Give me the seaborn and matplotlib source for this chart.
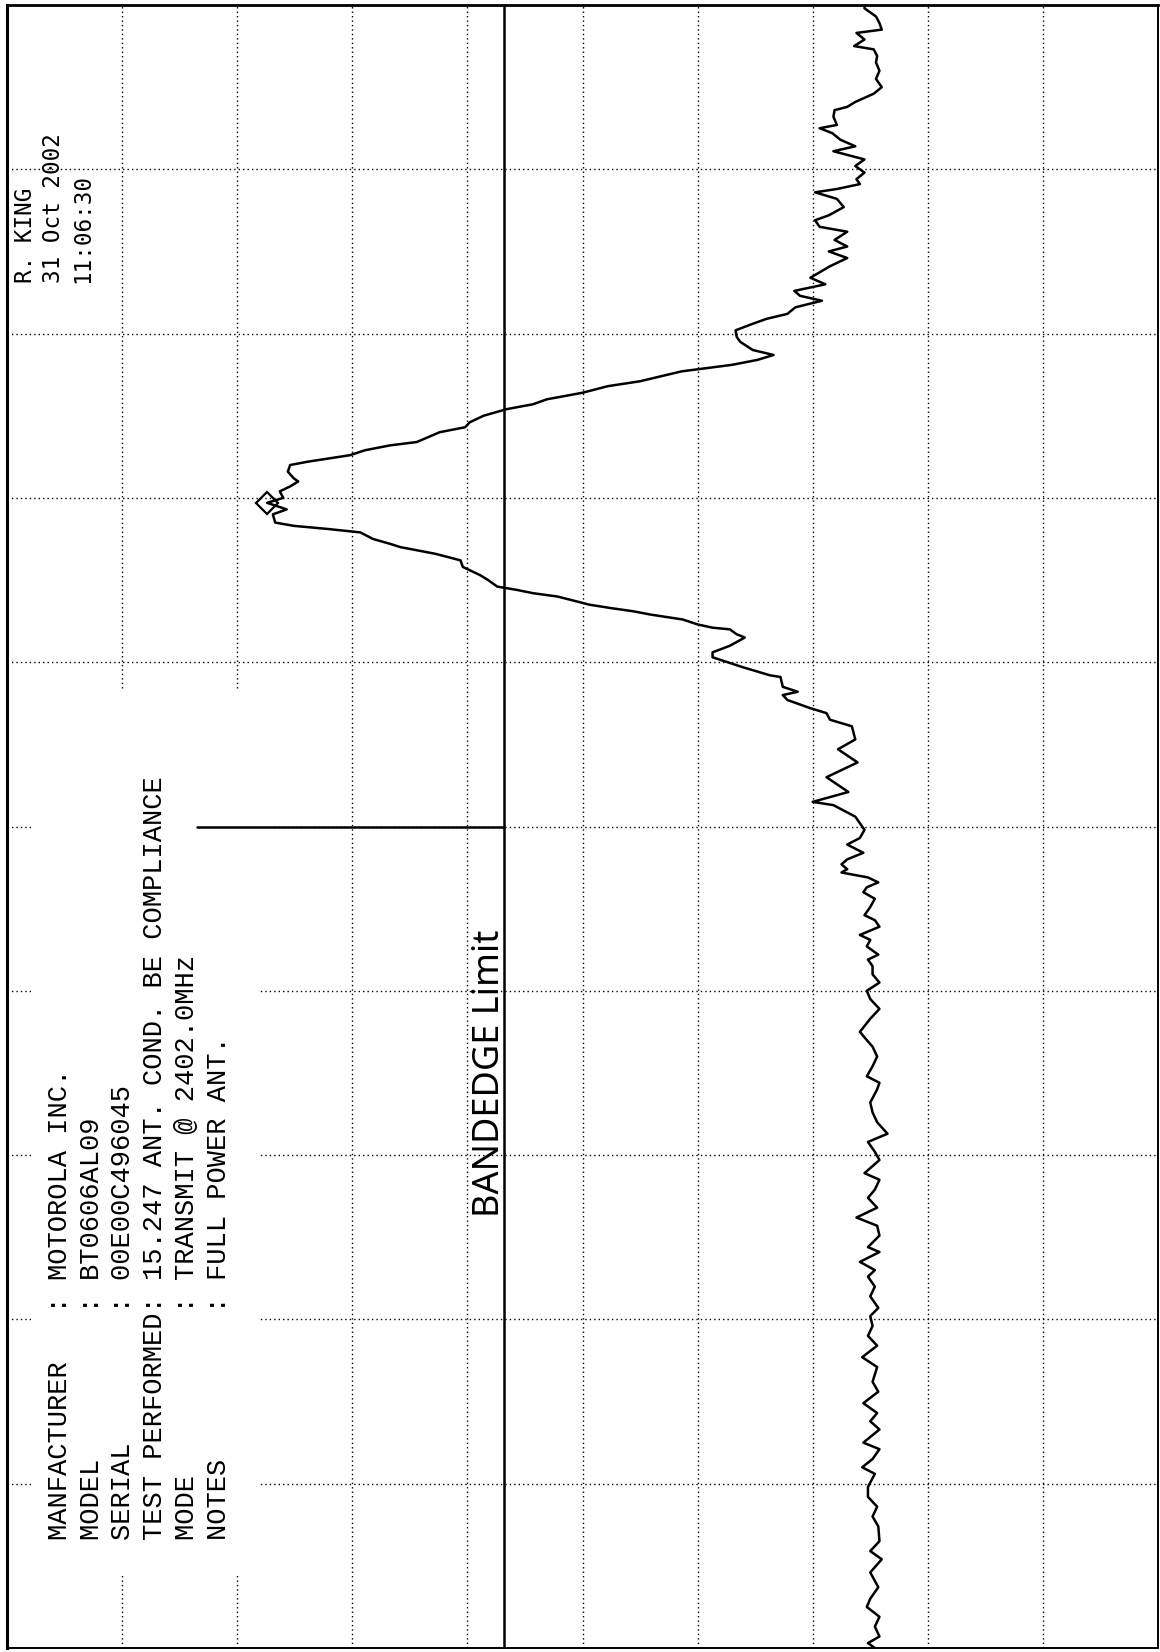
import numpy as np
import pandas as pd
import matplotlib
matplotlib.use("Agg")
import matplotlib.pyplot as plt
import seaborn as sns
from matplotlib.patches import Rectangle

# ---- measured sweep (frequency in MHz, level in dBm) ----
freq_mhz = [
    2395.00, 2395.03, 2395.07, 2395.13, 2395.19, 2395.25, 2395.30, 2395.37, 2395.46, 2395.54,
    2395.59, 2395.65, 2395.74, 2395.80, 2395.86, 2395.92, 2395.98, 2396.06, 2396.10, 2396.15,
    2396.21, 2396.25, 2396.33, 2396.38, 2396.43, 2396.49, 2396.56, 2396.62, 2396.71, 2396.77,
    2396.84, 2396.90, 2396.96, 2397.02, 2397.07, 2397.14, 2397.20, 2397.26, 2397.30, 2397.35,
    2397.41, 2397.44, 2397.51, 2397.57, 2397.62, 2397.68, 2397.74, 2397.79, 2397.85, 2397.89,
    2397.97, 2398.02, 2398.08, 2398.13, 2398.20, 2398.26, 2398.32, 2398.40, 2398.44, 2398.48,
    2398.54, 2398.60, 2398.66, 2398.70, 2398.75, 2398.83, 2398.89, 2398.95, 2399.00, 2399.05,
    2399.10, 2399.15, 2399.19, 2399.22, 2399.27, 2399.31, 2399.34, 2399.39, 2399.43, 2399.46,
    2399.51, 2399.56, 2399.60, 2399.63, 2399.66, 2399.69, 2399.72, 2399.74, 2399.77, 2399.80,
    2399.84, 2399.89, 2399.93, 2399.98, 2400.00, 2400.06, 2400.13, 2400.15, 2400.21, 2400.30,
    2400.39, 2400.47, 2400.53, 2400.61, 2400.65, 2400.69, 2400.72, 2400.77, 2400.80, 2400.82,
    2400.85, 2400.91, 2400.92, 2400.97, 2401.00, 2401.03, 2401.06, 2401.10, 2401.15, 2401.17,
    2401.20, 2401.21, 2401.23, 2401.26, 2401.29, 2401.31, 2401.33, 2401.35, 2401.37, 2401.40,
    2401.42, 2401.44, 2401.46, 2401.50, 2401.53, 2401.58, 2401.62, 2401.66, 2401.70, 2401.72,
    2401.75, 2401.79, 2401.81, 2401.83, 2401.85, 2401.90, 2401.93, 2401.97, 2402.00, 2402.04,
    2402.07, 2402.10, 2402.12, 2402.16, 2402.20, 2402.22, 2402.26, 2402.29, 2402.32, 2402.34,
    2402.40, 2402.43, 2402.46, 2402.50, 2402.54, 2402.57, 2402.60, 2402.64, 2402.68, 2402.71,
    2402.74, 2402.77, 2402.79, 2402.81, 2402.84, 2402.87, 2402.90, 2402.95, 2402.98, 2403.02,
    2403.06, 2403.09, 2403.12, 2403.16, 2403.20, 2403.23, 2403.26, 2403.30, 2403.34, 2403.41,
    2403.46, 2403.50, 2403.53, 2403.57, 2403.62, 2403.65, 2403.69, 2403.72, 2403.77, 2403.82,
    2403.86, 2403.88, 2403.91, 2403.94, 2403.98, 2404.02, 2404.06, 2404.11, 2404.14, 2404.18,
    2404.22, 2404.25, 2404.27, 2404.32, 2404.36, 2404.38, 2404.41, 2404.46, 2404.50, 2404.55,
    2404.60, 2404.65, 2404.69, 2404.73, 2404.75, 2404.79, 2404.83, 2404.85, 2404.89, 2404.93,
    2404.98, 2405.00,
]
level_dbm = [
    -55.4, -54.8, -55.8, -55.4, -55.8, -54.7, -55.0, -55.7, -55.0, -56.0,
    -55.0, -55.8, -55.7, -55.2, -55.6, -54.8, -54.8, -55.4, -54.3, -55.2,
    -55.8, -54.4, -55.8, -55.0, -55.6, -54.4, -55.7, -55.2, -55.6, -54.3,
    -55.6, -54.8, -55.2, -55.0, -55.7, -55.0, -55.4, -54.8, -55.4, -54.1,
    -55.8, -54.8, -55.8, -55.6, -53.8, -55.6, -54.8, -55.4, -55.8, -54.5,
    -55.8, -55.4, -54.8, -56.5, -55.6, -55.2, -55.0, -55.6, -55.8, -54.7,
    -55.2, -55.6, -55.2, -54.7, -54.1, -55.0, -55.8, -55.0, -54.7, -55.8,
    -55.2, -55.2, -54.8, -55.7, -54.7, -55.0, -54.1, -55.8, -55.4, -54.5,
    -55.0, -55.4, -54.4, -54.7, -55.7, -54.8, -52.5, -53.0, -52.5, -53.0,
    -54.4, -53.0, -54.1, -54.5, -54.3, -53.7, -51.8, -50.0, -53.1, -51.2,
    -53.9, -52.2, -53.7, -53.4, -51.5, -51.2, -49.8, -47.8, -47.4, -48.7,
    -47.4, -47.2, -46.3, -43.9, -42.6, -41.3, -41.3, -42.8, -44.1, -43.4,
    -42.8, -41.3, -40.0, -38.7, -35.9, -34.4, -32.4, -30.6, -29.5, -27.8,
    -25.7, -24.3, -22.6, -21.8, -21.1, -19.6, -19.4, -17.2, -14.2, -13.3,
    -11.8, -10.7, -8.0, -4.9, -3.3, -3.1, -4.3, -2.6, -4.0, -3.7,
    -4.6, -5.3, -4.9, -4.4, -4.6, -6.1, -9.8, -11.1, -13.3, -15.6,
    -17.6, -19.8, -20.2, -21.4, -23.4, -25.7, -26.9, -30.0, -32.2, -35.0,
    -36.8, -38.6, -40.8, -43.0, -45.2, -46.6, -44.8, -43.7, -43.4, -43.3,
    -44.8, -46.0, -47.8, -48.5, -50.8, -48.9, -48.4, -51.1, -49.8, -51.5,
    -53.0, -51.4, -53.0, -51.9, -53.0, -50.6, -50.2, -51.4, -52.7, -52.1,
    -50.2, -52.1, -54.1, -53.8, -54.5, -53.7, -54.5, -51.8, -53.7, -52.4,
    -51.7, -50.6, -52.1, -51.8, -51.9, -53.0, -53.7, -55.3, -56.0, -55.5,
    -55.8, -55.5, -55.6, -55.3, -53.6, -54.5, -53.8, -56.0, -55.8, -55.5,
    -54.5, -54.5,
]

# ---- analyser settings ----
ref_level_dbm = 20.0
db_per_div = 10
n_divs = 10
start_mhz, stop_mhz = 2395.0, 2405.0
bandedge_mhz = 2400.0
display_line_dbm = -23.2
bandedge_line_top_dbm = 3.5

# ---- annotations ----
header_labels = ["MANFACTURER", "MODEL", "SERIAL", "TEST PERFORMED", "MODE", "NOTES"]
header_values = ["MOTOROLA INC.", "BT0606AL09", "00E00C496045",
                 "15.247 ANT. COND. BE COMPLIANCE", "TRANSMIT @ 2402.0MHz",
                 "FULL POWER ANT."]
stamp_lines = ["R. KING", "31 Oct 2002", "11:06:30"]
note_text = "BANDEDGE Limit"

sns.set_theme(style="white")
plt.rcParams["font.family"] = ["DejaVu Sans Mono", "DejaVu Sans"]

W, H = 1160, 1652
fig = plt.figure(figsize=(W / 100, H / 100), dpi=100)
fig.patch.set_facecolor("white")

# Plot is printed sideways: level runs left->right (reference at left),
# frequency runs bottom->top.
ax = fig.add_axes([7 / W, 4 / H, 1151 / W, 1643 / H])
ax.set_facecolor("white")
ax.set_xlim(ref_level_dbm, ref_level_dbm - db_per_div * n_divs)
ax.set_ylim(start_mhz, stop_mhz)
ax.set_xticks(np.linspace(ref_level_dbm, ref_level_dbm - db_per_div * n_divs, n_divs + 1))
ax.set_yticks(np.linspace(start_mhz, stop_mhz, n_divs + 1))
ax.tick_params(length=0, labelbottom=False, labelleft=False)
ax.set_axisbelow(True)
ax.grid(True, color="black", linestyle=(0, (1.0, 2.2)), linewidth=1.0)
for sp in ax.spines.values():
    sp.set_visible(True)
    sp.set_color("black")
    sp.set_linewidth(1.4)
ax.spines["left"].set_linewidth(2.2)
ax.spines["top"].set_linewidth(2.0)

# blank panel behind the header block
ax.add_patch(Rectangle((0.021, 0.045), 0.197, 0.538, transform=ax.transAxes,
                       facecolor="white", edgecolor="none", zorder=1))

df = pd.DataFrame({"freq": freq_mhz, "level": level_dbm})
sns.lineplot(data=df, x="level", y="freq", orient="y", sort=False, estimator=None,
             color="black", linewidth=1.8, ax=ax, zorder=3)

# peak marker
peak = df.loc[df["level"].idxmax()]
ax.plot([peak["level"]], [peak["freq"]], marker="D", ms=11, mfc="none",
        mec="black", mew=1.6, zorder=4)

# display line and band-edge marker
ax.axvline(display_line_dbm, color="black", linewidth=1.8, zorder=3)
ax.plot([bandedge_line_top_dbm, display_line_dbm], [bandedge_mhz, bandedge_mhz],
        color="black", linewidth=1.8, zorder=3)

# header block (reads bottom to top); baseline sits right of the glyphs
hdr_size = 19.5
hdr_cap = 0.66 * hdr_size * 100 / 72
hdr_kw = dict(rotation=90, rotation_mode="anchor", ha="left", va="baseline",
              fontsize=hdr_size, color="black",
              family=["Liberation Mono", "DejaVu Sans Mono"])
header_x = [58, 90, 121, 153, 185, 217]
for xc, lab, val in zip(header_x, header_labels, header_values):
    fig.text((xc + hdr_cap / 2) / W, 1 - 1540 / H, f"{lab:<14}: {val}", **hdr_kw)

stp_size = 16.3
stp_cap = 0.73 * stp_size * 100 / 72
stp_kw = dict(rotation=90, rotation_mode="anchor", ha="left", va="baseline",
              fontsize=stp_size, color="black",
              family=["DejaVu Sans Mono", "DejaVu Sans"])
stamp_x = [24, 52, 81]
for xc, line in zip(stamp_x, stamp_lines):
    fig.text((xc + stp_cap / 2) / W, 1 - 283 / H, line, **stp_kw)

fig.text(499 / W, 1 - 1217 / H, note_text, rotation=90, rotation_mode="anchor",
         ha="left", va="baseline", fontsize=26, color="black",
         family=["Noto Sans", "DejaVu Sans"], fontweight="light")

fig.savefig("out.png", dpi=100, facecolor="white")
